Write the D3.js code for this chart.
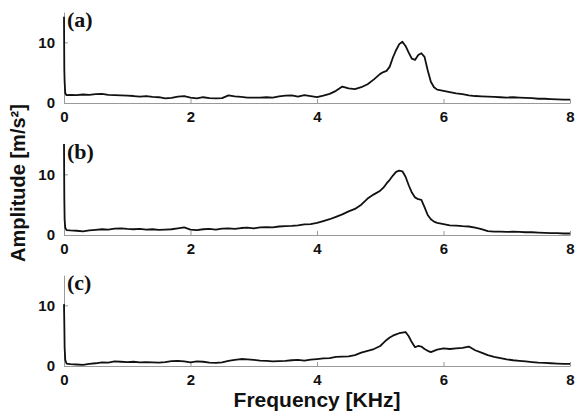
<!DOCTYPE html>
<html>
<head>
<meta charset="utf-8">
<script src="https://cdn.jsdelivr.net/npm/d3@7"></script>
<style>
  body { margin: 0; background: #fff; }
  svg { display: block; }
  .axis path, .axis line { stroke: #9a9a9a; }
  .axis text { font-family: "Liberation Sans", Arial, sans-serif; font-weight: bold; font-size: 15px; fill: #111; }
</style>
</head>
<body>
<script>
// frequency grid in kHz (denser around the DC spike and the resonance)
var freq = [0, 0.005, 0.01, 0.02, 0.04,
  0.1, 0.2, 0.3, 0.4, 0.5, 0.6, 0.7, 0.8, 0.9, 1.0,
  1.1, 1.2, 1.3, 1.4, 1.5, 1.6, 1.7, 1.8, 1.9, 2.0,
  2.1, 2.2, 2.3, 2.4, 2.5, 2.6, 2.7, 2.8, 2.9, 3.0,
  3.1, 3.2, 3.3, 3.4, 3.5, 3.6, 3.7, 3.8, 3.9, 4.0,
  4.1, 4.2, 4.3, 4.4, 4.5, 4.6, 4.7, 4.8, 4.9, 5.0,
  5.05, 5.1, 5.15, 5.2, 5.25, 5.3, 5.35, 5.4, 5.45, 5.5,
  5.55, 5.6, 5.65, 5.7, 5.75, 5.8, 5.85, 5.9,
  6.0, 6.1, 6.2, 6.3, 6.4, 6.5, 6.6, 6.7, 6.8, 6.9, 7.0,
  7.1, 7.2, 7.3, 7.4, 7.5, 7.6, 7.7, 7.8, 7.9, 8.0];

var ampA = [14.2, 5.5, 3.5, 1.6, 1.3,
  1.35, 1.3, 1.4, 1.35, 1.45, 1.5, 1.35, 1.3, 1.25, 1.2,
  1.15, 1.05, 1.15, 1.0, 0.95, 0.75, 0.85, 1.05, 1.15, 0.9,
  0.75, 0.95, 0.8, 0.75, 0.8, 1.25, 1.1, 1.0, 0.9, 0.9,
  0.9, 0.95, 0.9, 1.1, 1.2, 1.25, 1.05, 1.3, 1.15, 0.95,
  1.2, 1.5, 2.0, 2.7, 2.4, 2.3, 2.6, 3.1, 3.9, 4.8,
  5.1, 5.3, 6.0, 7.5, 8.7, 9.7, 10.1, 9.4, 8.3, 7.3,
  7.1, 7.9, 8.2, 7.6, 5.4, 3.5, 2.6, 2.2,
  2.0, 1.8, 1.6, 1.45, 1.25, 1.15, 1.1, 1.05, 1.0, 0.95, 0.9,
  0.95, 0.9, 0.85, 0.8, 0.7, 0.7, 0.65, 0.6, 0.55, 0.55];

var ampB = [15, 6, 2.5, 1.2, 0.8,
  0.75, 0.7, 0.6, 0.75, 0.85, 0.95, 0.9, 1.05, 1.1, 1.0,
  0.95, 1.0, 0.9, 0.95, 0.85, 0.9, 0.95, 1.1, 1.25, 0.9,
  0.8, 0.95, 1.0, 0.9, 1.05, 1.1, 1.0, 1.15, 1.2, 1.1,
  1.25, 1.3, 1.25, 1.4, 1.45, 1.5, 1.6, 1.75, 1.8, 2.0,
  2.3, 2.6, 3.0, 3.4, 3.9, 4.3, 5.0, 6.0, 6.7, 7.3,
  7.8, 8.5, 9.1, 9.8, 10.4, 10.6, 10.5, 9.6, 8.2, 7.0,
  6.2, 5.9, 5.8, 4.6, 3.3, 2.6, 2.2, 2.0,
  1.8, 1.6, 1.55, 1.45, 1.4, 1.2, 0.95, 0.65, 0.55, 0.55, 0.5,
  0.55, 0.5, 0.45, 0.45, 0.4, 0.35, 0.3, 0.3, 0.25, 0.25];

var ampC = [10.2, 7, 3, 1.0, 0.4,
  0.3, 0.25, 0.2, 0.35, 0.45, 0.6, 0.55, 0.75, 0.7, 0.65,
  0.7, 0.6, 0.65, 0.6, 0.55, 0.65, 0.8, 0.85, 0.75, 0.6,
  0.75, 0.7, 0.55, 0.5, 0.6, 0.85, 1.0, 1.15, 1.1, 1.0,
  0.9, 0.85, 0.75, 0.8, 0.85, 0.95, 1.0, 0.9, 1.05, 1.15,
  1.25, 1.3, 1.5, 1.55, 1.6, 1.8, 2.2, 2.5, 2.8, 3.3,
  3.8, 4.3, 4.7, 5.0, 5.2, 5.4, 5.5, 5.6, 4.9, 3.9,
  3.1, 3.3, 3.2, 2.8, 2.5, 2.3, 2.5, 2.7,
  2.9, 2.8, 2.9, 3.0, 3.2, 2.6, 2.2, 1.8, 1.5, 1.3, 1.1,
  0.95, 0.85, 0.75, 0.65, 0.55, 0.5, 0.45, 0.4, 0.35, 0.35];

var panelNames = ["(a)", "(b)", "(c)"];
var series = [ampA, ampB, ampC];
var xTicks = [0, 2, 4, 6, 8];
var yTicks = [0, 10];

var width = 578, height = 417;
var left = 64, right = 570;
var panelTop = [12, 144, 275];
var panelH = 91;

var svg = d3.select("body")
  .append("svg")
  .attr("width", width)
  .attr("height", height);

var x = d3.scaleLinear().domain([0, 8]).range([left, right]);

series.forEach(function (amp, i) {
  var y = d3.scaleLinear().domain([0, 15]).range([panelTop[i] + panelH, panelTop[i]]);
  var g = svg.append("g");

  g.append("g")
    .attr("class", "axis")
    .attr("transform", "translate(0," + (panelTop[i] + panelH) + ")")
    .call(d3.axisBottom(x).tickValues(xTicks).tickFormat(d3.format("d"))
      .tickSizeInner(-4).tickSizeOuter(0).tickPadding(8));

  g.append("g")
    .attr("class", "axis")
    .attr("transform", "translate(" + left + ",0)")
    .call(d3.axisLeft(y).tickValues(yTicks).tickFormat(d3.format("d"))
      .tickSizeInner(-4).tickSizeOuter(0).tickPadding(9));

  var pts = freq.map(function (f, k) { return [f, amp[k]]; });

  g.append("path")
    .datum(pts)
    .attr("fill", "none")
    .attr("stroke", "#111")
    .attr("stroke-width", 1.8)
    .attr("stroke-linejoin", "round")
    .attr("d", d3.line()
      .x(function (d) { return x(d[0]); })
      .y(function (d) { return y(d[1]); }));

  g.append("text")
    .attr("x", 67)
    .attr("y", panelTop[i] + 15)
    .attr("font-family", "Liberation Serif, Times New Roman, serif")
    .attr("font-weight", "bold")
    .attr("font-size", 22)
    .attr("fill", "#111")
    .text(panelNames[i]);
});

svg.append("text")
  .attr("transform", "translate(25,183) rotate(-90)")
  .attr("text-anchor", "middle")
  .attr("font-family", "Liberation Sans, Arial, sans-serif")
  .attr("font-weight", "bold")
  .attr("font-size", 20)
  .attr("fill", "#111")
  .text("Amplitude [m/s²]");

svg.append("text")
  .attr("x", 317)
  .attr("y", 407)
  .attr("text-anchor", "middle")
  .attr("font-family", "Liberation Sans, Arial, sans-serif")
  .attr("font-weight", "bold")
  .attr("font-size", 21)
  .attr("fill", "#111")
  .text("Frequency [KHz]");
</script>
</body>
</html>
